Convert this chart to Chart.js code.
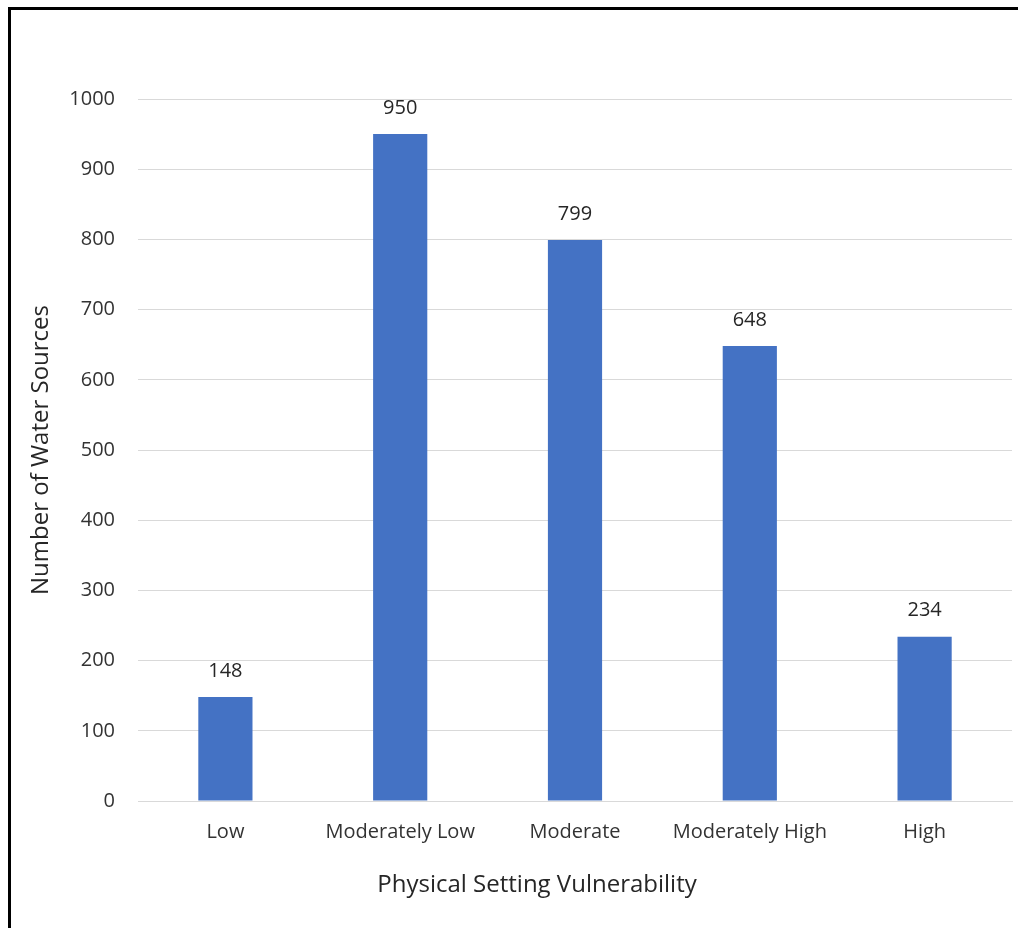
<!DOCTYPE html>
<html>
<head>
<meta charset="utf-8">
<script src="https://cdn.jsdelivr.net/npm/chart.js@4/dist/chart.umd.min.js"></script>
<style>
  html, body { margin: 0; padding: 0; background: #fff; }
  #frame {
    position: absolute; left: 8px; top: 7px; width: 1010px; height: 921px;
    border-left: 3px solid #000; border-top: 3px solid #000;
  }
  #chart { position: absolute; left: 0; top: 0; }
</style>
</head>
<body>
<div id="frame"></div>
<canvas id="chart" width="1018" height="928"></canvas>
<script>
// Datos del gráfico
const categories = ['Low', 'Moderately Low', 'Moderate', 'Moderately High', 'High'];
const waterSources = [148, 950, 799, 648, 234];
const yTicks = [0, 100, 200, 300, 400, 500, 600, 700, 800, 900, 1000];
const xTitle = 'Physical Setting Vulnerability';

const FONT = "'Open Sans', 'Liberation Sans', sans-serif";

// Etiquetas de valor encima de cada barra y título del eje X
const valueLabels = {
  id: 'valueLabels',
  afterDatasetsDraw(chart) {
    const ctx = chart.ctx;
    const meta = chart.getDatasetMeta(0);
    ctx.save();
    ctx.font = '20px ' + FONT;
    ctx.fillStyle = '#262626';
    ctx.textAlign = 'center';
    ctx.textBaseline = 'middle';
    meta.data.forEach((bar, i) => {
      ctx.fillText(String(waterSources[i]), bar.x, bar.y - 26);
    });
    // título del eje X (centrado en todo el gráfico, como en el original)
    ctx.font = '24px ' + FONT;
    ctx.fillText(xTitle, 537, 885);
    ctx.restore();
  }
};

new Chart(document.getElementById('chart'), {
  type: 'bar',
  data: {
    labels: categories,
    datasets: [{
      data: waterSources,
      backgroundColor: '#4472C4',
      barPercentage: 0.31,
      categoryPercentage: 1
    }]
  },
  options: {
    responsive: false,
    animation: false,
    layout: { padding: { left: 0, right: 6, top: 99, bottom: 0 } },
    plugins: { legend: { display: false }, tooltip: { enabled: false } },
    scales: {
      x: {
        grid: { display: false, drawTicks: false },
        border: { display: true, color: '#d9d9d9', width: 1 },
        ticks: { color: '#333333', font: { family: FONT, size: 20 }, padding: 19 },
        afterFit(scale) { scale.height = 127; }
      },
      y: {
        min: 0, max: 1000,
        afterBuildTicks(scale) { scale.ticks = yTicks.map(v => ({ value: v })); },
        grid: { color: '#d9d9d9', drawTicks: false },
        border: { display: false },
        ticks: {
          color: '#333333', font: { family: FONT, size: 20 }, padding: 23,
          callback: v => String(v)
        },
        title: {
          display: true, text: 'Number of Water Sources',
          color: '#262626', font: { family: FONT, size: 24 },
          padding: { top: 27, bottom: 0 }
        },
        afterFit(scale) { scale.width = 138; }
      }
    }
  },
  plugins: [valueLabels]
});
</script>
</body>
</html>
